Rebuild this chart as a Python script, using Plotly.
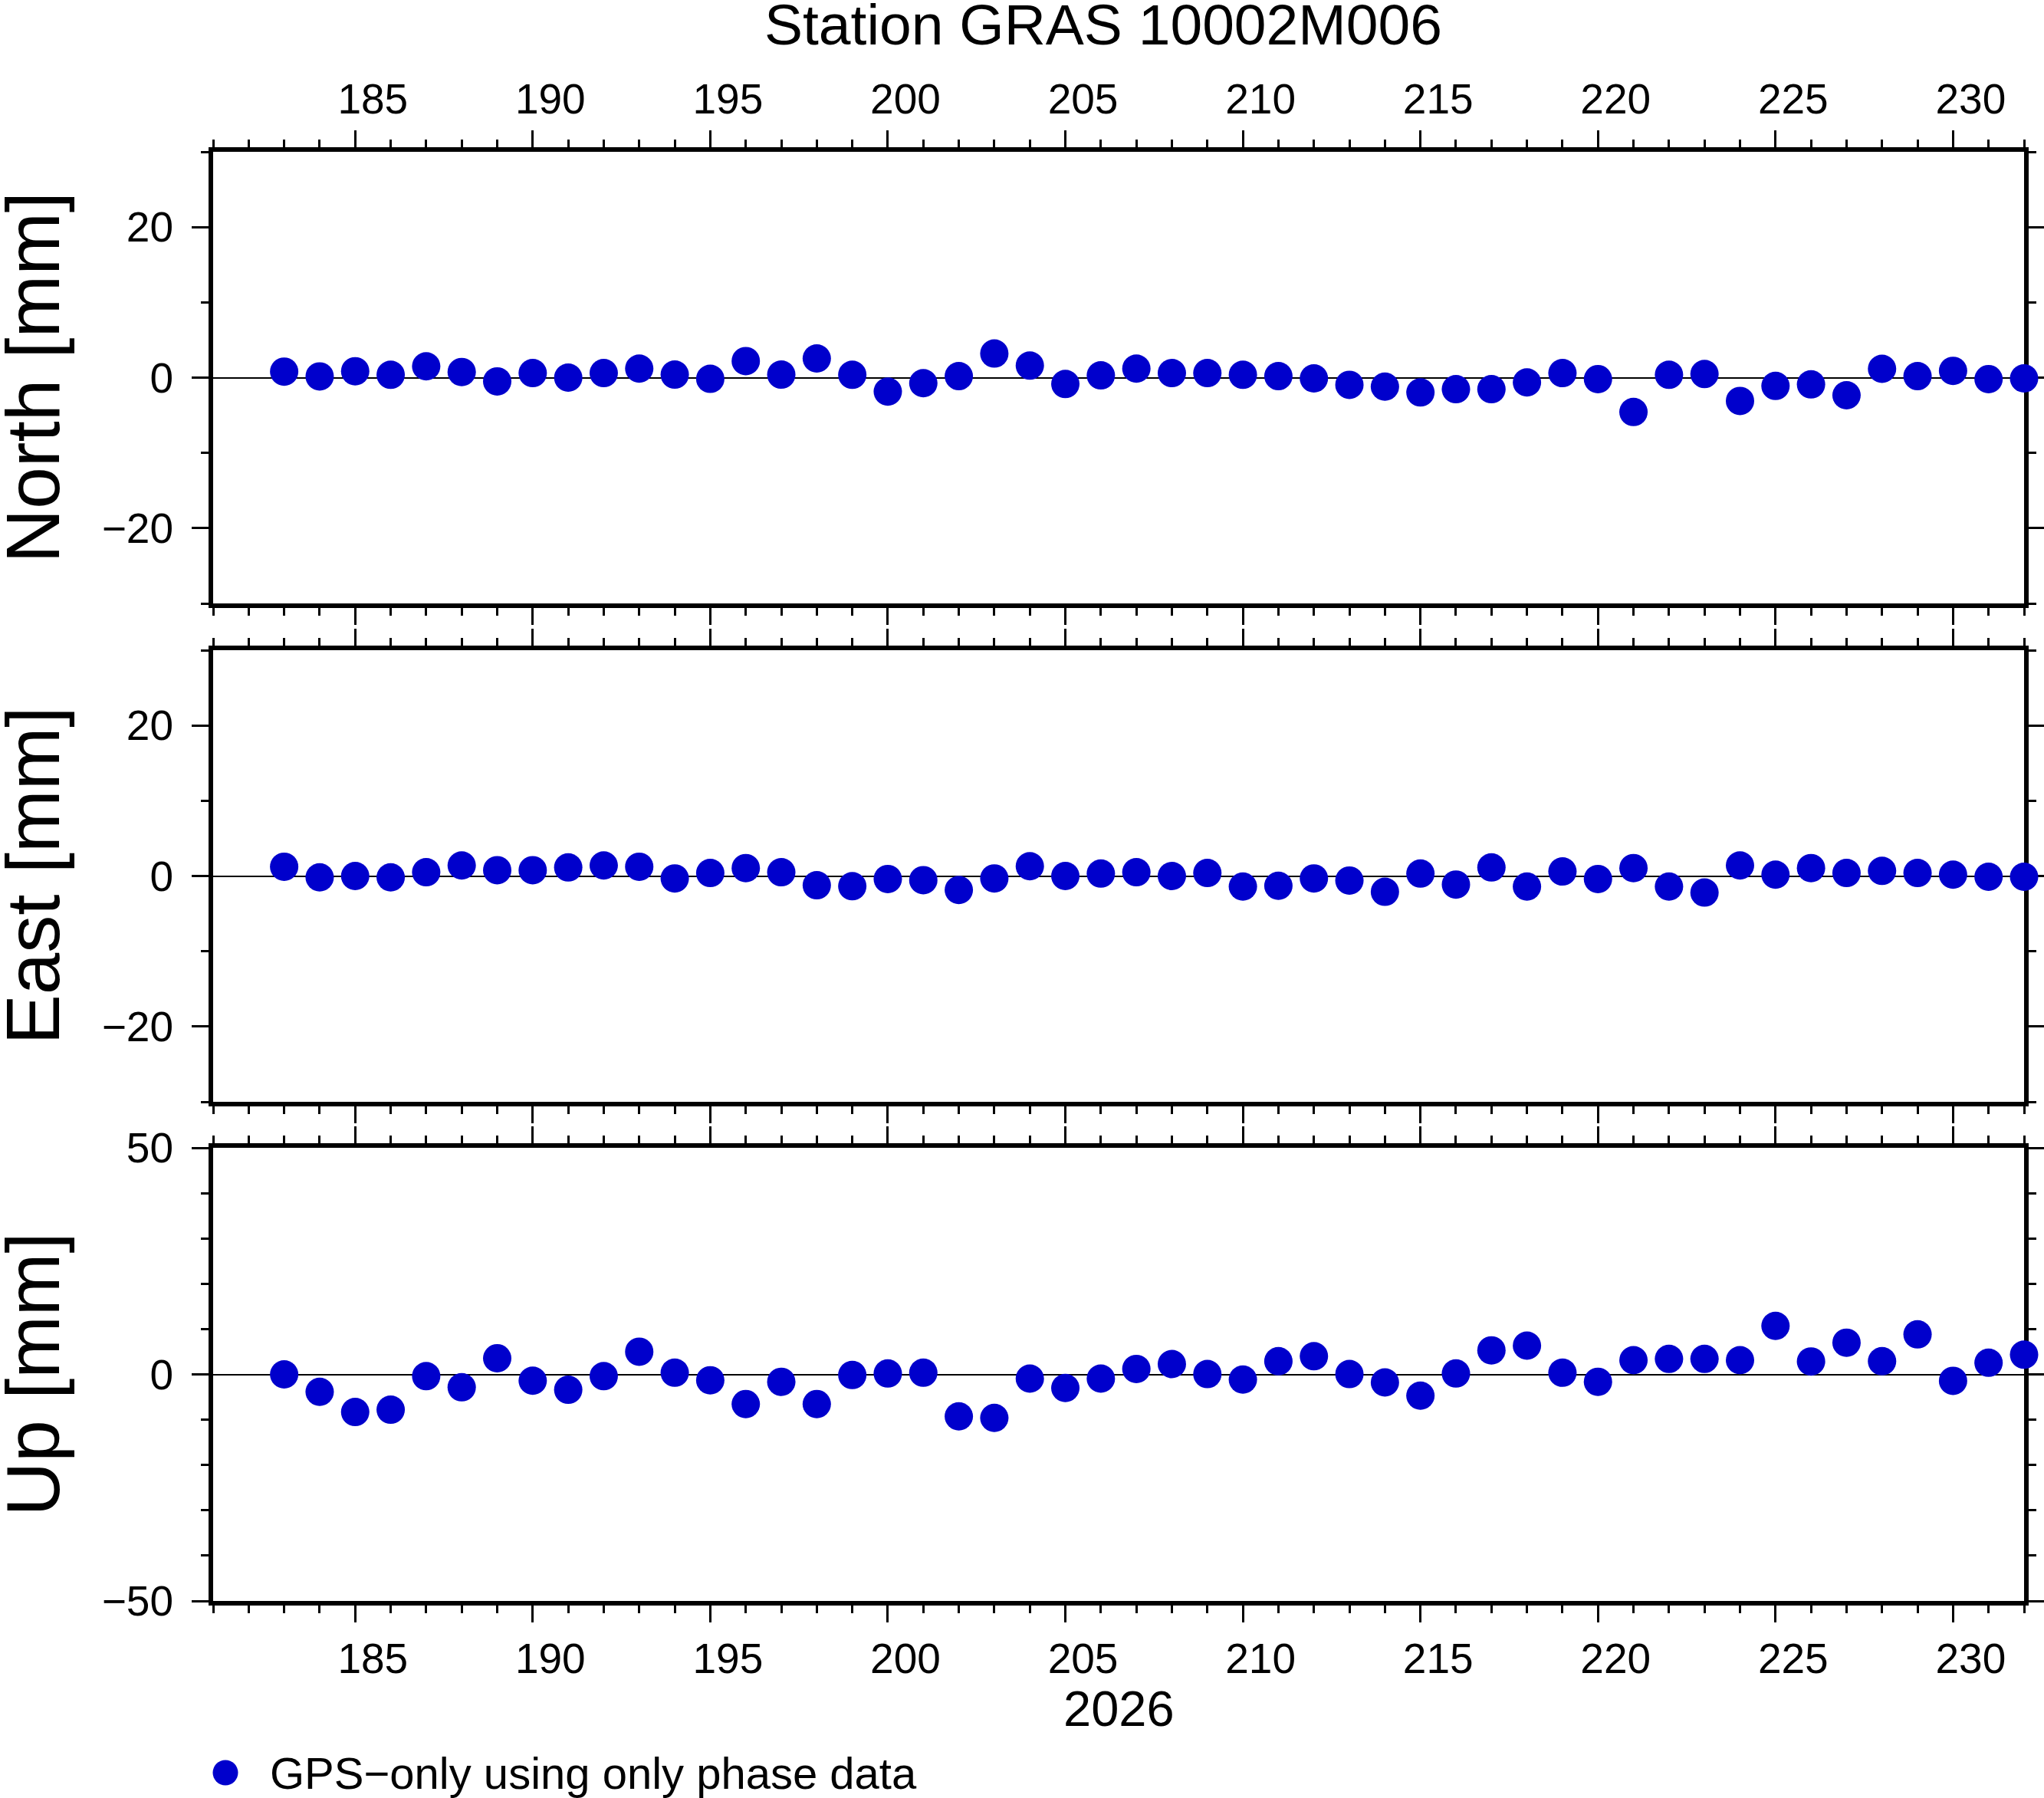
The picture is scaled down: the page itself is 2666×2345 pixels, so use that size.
import plotly.graph_objects as go

# ---------------- data ----------------
days = [183, 184, 185, 186, 187, 188, 189, 190, 191, 192,
        193, 194, 195, 196, 197, 198, 199, 200, 201, 202,
        203, 204, 205, 206, 207, 208, 209, 210, 211, 212,
        213, 214, 215, 216, 217, 218, 219, 220, 221, 222,
        223, 224, 225, 226, 227, 228, 229, 230, 231, 232]

north = [0.8, 0.16, 0.85, 0.37, 1.5, 0.75, -0.5, 0.6, 0.0, 0.6,
         1.2, 0.4, -0.16, 2.2, 0.4, 2.55, 0.37, -1.86, -0.74, 0.2,
         3.2, 1.6, -0.85, 0.3, 1.2, 0.6, 0.6, 0.37, 0.2, -0.1,
         -0.96, -1.2, -1.97, -1.54, -1.54, -0.64, 0.6, -0.2, -4.57, 0.37,
         0.48, -3.1, -1.1, -0.9, -2.34, 1.17, 0.2, 0.9, -0.2, -0.1]

east = [1.23, -0.18, 0.0, -0.18, 0.5, 1.4, 0.77, 0.77, 1.14, 1.4,
        1.23, -0.32, 0.4, 1.05, 0.5, -1.23, -1.36, -0.4, -0.55, -1.86,
        -0.32, 1.3, 0.0, 0.32, 0.5, 0.0, 0.4, -1.4, -1.3, -0.32,
        -0.6, -2.1, 0.32, -1.14, 1.14, -1.4, 0.6, -0.4, 1.05, -1.4,
        -2.2, 1.4, 0.18, 1.05, 0.4, 0.68, 0.4, 0.18, -0.1, -0.1]

up = [0.0, -3.85, -8.3, -7.8, -0.4, -2.85, 3.56, -1.4, -3.4, -0.4,
      5.0, 0.36, -1.3, -6.55, -1.64, -6.55, -0.14, 0.2, 0.36, -9.26,
      -9.6, -0.93, -3.0, -0.93, 1.2, 2.28, 0.07, -1.14, 2.9, 4.0,
      0.07, -1.78, -4.7, 0.2, 5.3, 6.34, 0.36, -1.64, 3.13, 3.42,
      3.42, 3.13, 10.7, 2.85, 7.0, 2.9, 8.83, -1.42, 2.56, 4.34]

panel_titles = ["North [mm]", "East [mm]", "Up [mm]"]
panel_ranges = [[-30, 30], [-30, 30], [-50, 50]]
panel_major = [20, 20, 50]
x_range = [181, 232]
title_text = "Station GRAS 10002M006"
year_label = "2026"
legend_label = "GPS\u2212only using only phase data"

# ---------------- layout helpers ----------------
W, H = 2666, 2345
FONT = "Liberation Sans, Arial, Helvetica, sans-serif"
BLUE = "#0000CC"


def fx(px):
    return px / W


def fy(py):
    return 1 - py / H


x_dom = [fx(278), fx(2640)]
y_doms = [[fy(787), fy(198)], [fy(1437), fy(848)], [fy(2088), fy(1497)]]

fig = go.Figure()
series = [north, east, up]
for i, vals in enumerate(series):
    sfx = "" if i == 0 else str(i + 1)
    fig.add_trace(go.Scatter(
        x=days, y=vals, mode="markers",
        marker=dict(size=37, color=BLUE, line=dict(width=0)),
        xaxis="x" + sfx, yaxis="y" + sfx,
        cliponaxis=False, showlegend=False, hoverinfo="skip"))

layout = dict(
    width=W, height=H,
    margin=dict(l=0, r=0, t=0, b=0, pad=0),
    paper_bgcolor="white", plot_bgcolor="white",
    font=dict(family=FONT, color="black"),
    showlegend=False,
)

for i in range(3):
    sfx = "" if i == 0 else str(i + 1)
    xa = dict(
        domain=x_dom, range=x_range, anchor="y" + sfx, automargin=False,
        showline=True, linewidth=6, linecolor="black", mirror="allticks",
        ticks="outside", ticklen=22, tickwidth=3, tickcolor="black",
        tick0=0, dtick=5,
        minor=dict(dtick=1, tick0=0, ticks="outside", ticklen=10,
                   tickwidth=3, tickcolor="black", showgrid=False),
        showgrid=False, zeroline=False,
        tickfont=dict(size=55, family=FONT, color="black"),
        ticklabelshift=23, ticklabelstandoff=0,
        layer="below traces", fixedrange=True,
    )
    if i == 0:
        xa["side"] = "top"
        xa["showticklabels"] = True
    elif i == 1:
        xa["showticklabels"] = False
    else:
        xa["side"] = "bottom"
        xa["showticklabels"] = True
    ya = dict(
        domain=y_doms[i], range=panel_ranges[i], anchor="x" + sfx, automargin=False,
        showline=True, linewidth=6, linecolor="black", mirror="allticks",
        ticks="outside", ticklen=22, tickwidth=3, tickcolor="black",
        tick0=0, dtick=panel_major[i],
        minor=dict(dtick=10, tick0=0, ticks="outside", ticklen=10,
                   tickwidth=3, tickcolor="black", showgrid=False),
        showgrid=False, zeroline=True, zerolinecolor="black", zerolinewidth=2,
        tickfont=dict(size=55, family=FONT, color="black"),
        ticklabelstandoff=13,
        layer="below traces", fixedrange=True,
    )
    layout["xaxis" + sfx] = xa
    layout["yaxis" + sfx] = ya

annotations = [
    dict(text=title_text, x=fx(1439), y=fy(32), xref="paper", yref="paper",
         xanchor="center", yanchor="middle", showarrow=False,
         font=dict(size=75, family=FONT, color="black")),
    dict(text=year_label, x=fx(1459), y=fy(2228), xref="paper", yref="paper",
         xanchor="center", yanchor="middle", showarrow=False,
         font=dict(size=65, family=FONT, color="black")),
    dict(text=legend_label, x=fx(350), y=fy(2312), xref="paper", yref="paper",
         xanchor="left", yanchor="middle", showarrow=False,
         font=dict(size=58, family=FONT, color="black")),
]
for i, t in enumerate(panel_titles):
    ymid = (y_doms[i][0] + y_doms[i][1]) / 2
    annotations.append(dict(
        text=t, x=fx(42), y=ymid, xref="paper", yref="paper",
        xanchor="center", yanchor="middle", textangle=-90, showarrow=False,
        font=dict(size=98, family=FONT, color="black")))
layout["annotations"] = annotations

layout["shapes"] = [dict(
    type="circle", xref="paper", yref="paper",
    x0=fx(294 - 16.5), x1=fx(294 + 16.5), y0=fy(2312 + 16.5), y1=fy(2312 - 16.5),
    fillcolor=BLUE, line=dict(width=0))]

fig.update_layout(**layout)
fig.write_html("out.html", config={"displayModeBar": False},
               post_script="document.body.style.margin='0';")
